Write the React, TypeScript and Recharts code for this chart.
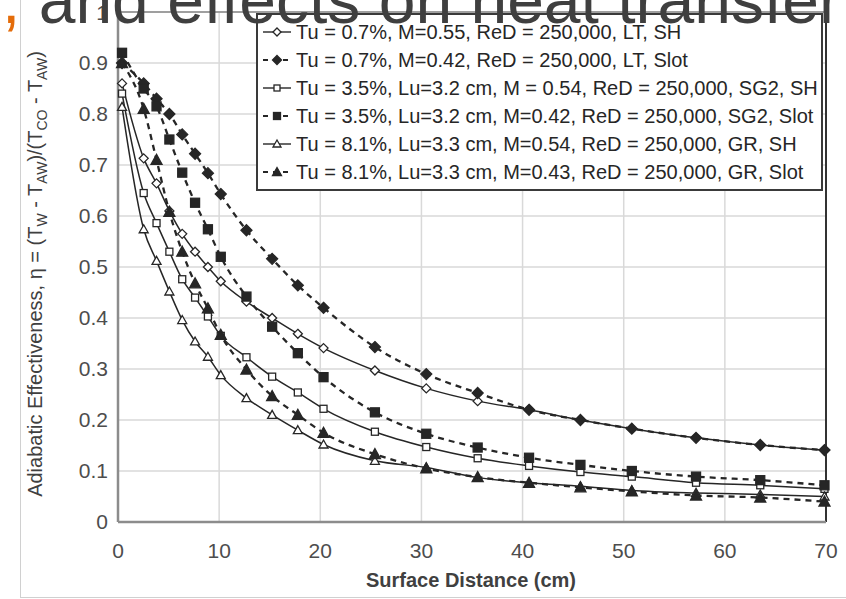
import React from 'react';
import { CartesianGrid, Legend, Line, LineChart, ReferenceLine, XAxis, YAxis } from 'recharts';

// surface distance, cm (measurement stations are every 0.5 in / 1 in / 2.5 in)
const distance = [0.4, 2.54, 3.81, 5.08, 6.35, 7.62, 8.89, 10.16, 12.7, 15.24, 17.78, 20.32, 25.4, 30.48, 35.56, 40.64, 45.72, 50.8, 57.15, 63.5, 69.85];

const ltSh = [0.86, 0.713, 0.664, 0.61, 0.565, 0.53, 0.5, 0.472, 0.432, 0.4, 0.369, 0.341, 0.297, 0.262, 0.237, 0.22, 0.2, 0.183, 0.165, 0.151, 0.141];
const ltSlot = [0.9, 0.86, 0.83, 0.8, 0.76, 0.722, 0.684, 0.643, 0.572, 0.516, 0.464, 0.42, 0.343, 0.29, 0.253, 0.22, 0.2, 0.183, 0.165, 0.151, 0.141];
const sg2Sh = [0.84, 0.645, 0.586, 0.53, 0.476, 0.44, 0.403, 0.365, 0.323, 0.285, 0.254, 0.222, 0.177, 0.147, 0.125, 0.11, 0.098, 0.089, 0.077, 0.072, 0.065];
const sg2Slot = [0.92, 0.85, 0.815, 0.75, 0.685, 0.626, 0.574, 0.52, 0.442, 0.383, 0.331, 0.284, 0.215, 0.173, 0.146, 0.126, 0.112, 0.1, 0.089, 0.082, 0.072];
const grSh = [0.814, 0.574, 0.512, 0.452, 0.396, 0.354, 0.324, 0.288, 0.243, 0.21, 0.18, 0.152, 0.12, 0.107, 0.087, 0.077, 0.07, 0.062, 0.057, 0.054, 0.05];
const grSlot = [0.9, 0.81, 0.71, 0.608, 0.53, 0.468, 0.419, 0.367, 0.299, 0.247, 0.21, 0.175, 0.133, 0.105, 0.088, 0.077, 0.068, 0.06, 0.052, 0.048, 0.04];

const seriesLabels = [
  'Tu = 0.7%, M=0.55, ReD = 250,000, LT, SH',
  'Tu = 0.7%, M=0.42, ReD = 250,000, LT, Slot',
  'Tu = 3.5%, Lu=3.2 cm, M = 0.54, ReD = 250,000, SG2, SH',
  'Tu = 3.5%, Lu=3.2 cm, M=0.42, ReD = 250,000, SG2, Slot',
  'Tu = 8.1%, Lu=3.3 cm, M=0.54, ReD = 250,000, GR, SH',
  'Tu = 8.1%, Lu=3.3 cm, M=0.43, ReD = 250,000, GR, Slot',
];

const xTicks = [0, 10, 20, 30, 40, 50, 60, 70];
const yTicks = [0, 0.1, 0.2, 0.3, 0.4, 0.5, 0.6, 0.7, 0.8, 0.9, 1];

const INK = '#262626';
const GREY_TEXT = '#4d4d4d';
const SANS = "'Liberation Sans', Arial, sans-serif";

type Shape = 'diamond' | 'square' | 'triangle';

const series: { key: string; label: string; values: number[]; shape: Shape; filled: boolean; dashed: boolean }[] = [
  { key: 'ltSh', label: seriesLabels[0], values: ltSh, shape: 'diamond', filled: false, dashed: false },
  { key: 'ltSlot', label: seriesLabels[1], values: ltSlot, shape: 'diamond', filled: true, dashed: true },
  { key: 'sg2Sh', label: seriesLabels[2], values: sg2Sh, shape: 'square', filled: false, dashed: false },
  { key: 'sg2Slot', label: seriesLabels[3], values: sg2Slot, shape: 'square', filled: true, dashed: true },
  { key: 'grSh', label: seriesLabels[4], values: grSh, shape: 'triangle', filled: false, dashed: false },
  { key: 'grSlot', label: seriesLabels[5], values: grSlot, shape: 'triangle', filled: true, dashed: true },
];

const chartData = distance.map((x, i) => {
  const row: Record<string, number> = { x };
  series.forEach((s) => {
    row[s.key] = s.values[i];
  });
  return row;
});

function Marker({ cx, cy, shape, filled, size }: { cx: number; cy: number; shape: Shape; filled: boolean; size: number }) {
  const fill = filled ? INK : '#fff';
  const h = size / 2;
  if (shape === 'square') {
    return <rect x={cx - h} y={cy - h} width={size} height={size} fill={fill} stroke={INK} strokeWidth={1.3} />;
  }
  if (shape === 'diamond') {
    return (
      <polygon
        points={`${cx},${cy - h - 1} ${cx + h + 1},${cy} ${cx},${cy + h + 1} ${cx - h - 1},${cy}`}
        fill={fill}
        stroke={INK}
        strokeWidth={1.3}
      />
    );
  }
  return (
    <polygon
      points={`${cx},${cy - h - 1} ${cx + h + 1},${cy + h} ${cx - h - 1},${cy + h}`}
      fill={fill}
      stroke={INK}
      strokeWidth={1.3}
    />
  );
}

function LegendBox() {
  return (
    <div
      style={{
        border: '2px solid #3a3a3a',
        background: '#fff',
        padding: '3px 4px',
        fontFamily: SANS,
        fontSize: 20,
        color: INK,
        lineHeight: '28px',
      }}
    >
      {series.map((s) => (
        <div key={s.key} style={{ display: 'flex', alignItems: 'center', whiteSpace: 'nowrap' }}>
          <svg width={30} height={16} style={{ marginRight: 4, flex: 'none' }}>
            <line
              x1={1}
              y1={8}
              x2={29}
              y2={8}
              stroke={INK}
              strokeWidth={s.dashed ? 2 : 1.4}
              strokeDasharray={s.dashed ? '5 5' : undefined}
            />
            <Marker cx={15} cy={8} shape={s.shape} filled={s.filled} size={s.filled ? 7 : 6} />
          </svg>
          <span>{s.label}</span>
        </div>
      ))}
    </div>
  );
}

function YTitle() {
  return (
    <text transform="translate(42, 274) rotate(-90)" textAnchor="middle" fontFamily={SANS} fontSize={20} fill="#404040">
      Adiabatic Effectiveness, η = (T<tspan dy={5} fontSize={14}>W</tspan>
      <tspan dy={-5}> - T</tspan>
      <tspan dy={5} fontSize={14}>AW</tspan>
      <tspan dy={-5}>)/(T</tspan>
      <tspan dy={5} fontSize={14}>CO</tspan>
      <tspan dy={-5}> - T</tspan>
      <tspan dy={5} fontSize={14}>AW</tspan>
      <tspan dy={-5}>)</tspan>
    </text>
  );
}

function XTitle() {
  return (
    <text x={471} y={587} textAnchor="middle" fontFamily={SANS} fontSize={20} fontWeight="bold" fill="#404040">
      Surface Distance (cm)
    </text>
  );
}

export default function App() {
  return (
    <div style={{ position: 'absolute', left: 0, top: 0, width: 846, height: 599, background: '#fff', overflow: 'hidden' }}>
      <style>{'body { margin: 0; }'}</style>
      {/* slide frame behind the pasted chart */}
      <div style={{ position: 'absolute', left: 20, top: 0, width: 830, height: 597, borderLeft: '1px solid #d0d0d0', borderBottom: '1px solid #d0d0d0' }} />
      <div style={{ position: 'absolute', left: 0, top: 0 }}>
        <LineChart width={846} height={599} data={chartData} margin={{ top: 12, right: 20, bottom: 0, left: 0 }}>
          <CartesianGrid stroke="#d9d9d9" strokeWidth={1.5} />
          <XAxis
            dataKey="x"
            type="number"
            domain={[0, 70]}
            ticks={xTicks}
            tickLine={false}
            axisLine={{ stroke: '#8c8c8c', strokeWidth: 2.5 }}
            tick={{ fontFamily: SANS, fontSize: 21, fill: GREY_TEXT }}
            tickMargin={15}
            height={77}
            label={{ content: () => <XTitle /> }}
          />
          <YAxis
            type="number"
            domain={[0, 1]}
            ticks={yTicks}
            tickLine={false}
            axisLine={{ stroke: '#8c8c8c', strokeWidth: 2.5 }}
            tick={{ fontFamily: SANS, fontSize: 21, fill: GREY_TEXT }}
            tickFormatter={(v: number) => (v === 0 || v === 1 ? String(v) : v.toFixed(1))}
            tickMargin={4}
            width={118}
            label={{ content: () => <YTitle /> }}
          />
          <ReferenceLine x={70} stroke="#333" strokeWidth={2} />
          <ReferenceLine y={1} stroke="#888" strokeWidth={1.5} />
          {series.map((s) => (
            <Line
              key={s.key}
              dataKey={s.key}
              type="monotone"
              stroke={INK}
              strokeWidth={s.dashed ? 2.3 : 1.5}
              strokeDasharray={s.dashed ? '6 5' : undefined}
              isAnimationActive={false}
              activeDot={false}
              dot={(p: any) => (
                <Marker
                  key={`${s.key}-${p.index}`}
                  cx={p.cx}
                  cy={p.cy}
                  shape={s.shape}
                  filled={s.filled}
                  size={s.filled ? 9 : 7}
                />
              )}
            />
          ))}
          <Legend
            layout="vertical"
            align="center"
            verticalAlign="middle"
            wrapperStyle={{ left: 256, top: 13, width: 567 }}
            content={() => <LegendBox />}
          />
        </LineChart>
      </div>
      {/* slide title running over the top of the picture */}
      <div
        style={{
          position: 'absolute',
          left: 20,
          top: -33,
          fontFamily: SANS,
          fontSize: 66,
          lineHeight: '66px',
          color: '#3f3f3f',
          whiteSpace: 'nowrap',
        }}
      >
        <span style={{ color: '#e46c0a', marginLeft: -18 }}>,</span> and effects on heat transfer
      </div>
    </div>
  );
}
